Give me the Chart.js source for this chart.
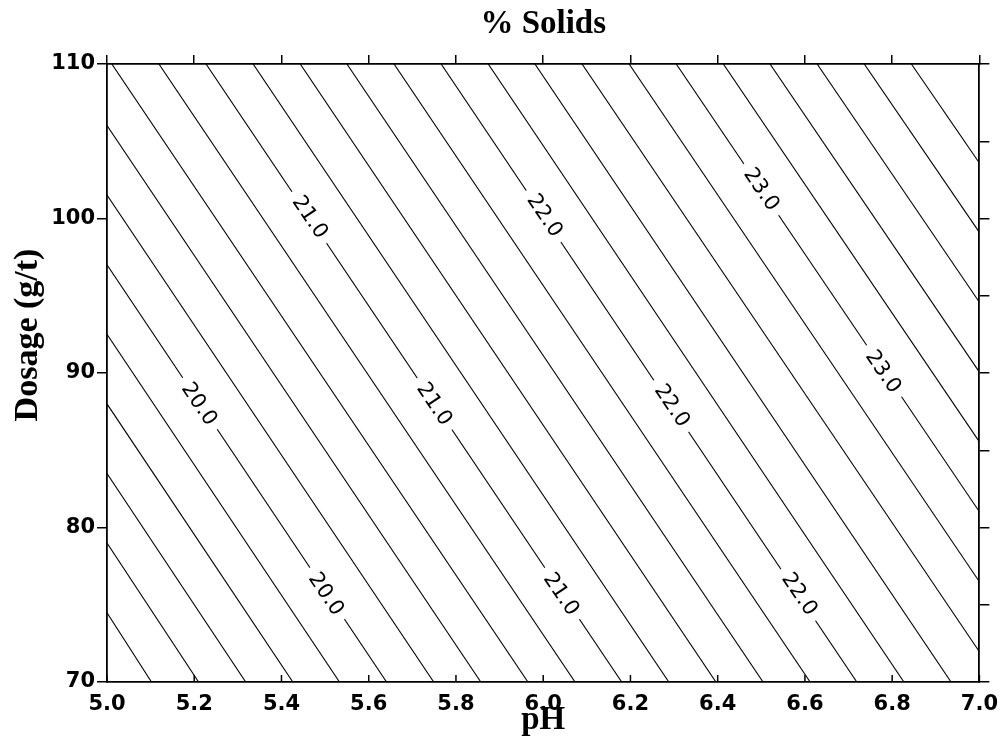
<!DOCTYPE html>
<html>
<head>
<meta charset="utf-8">
<title>% Solids</title>
<script src="https://cdn.jsdelivr.net/npm/chart.js@4.4.0/dist/chart.umd.min.js"></script>
<style>
  body { margin: 0; background: #fff; }
  canvas { display: block; }
</style>
</head>
<body>
<canvas id="solidosChart" width="1008" height="744"></canvas>
<script>
// Niveles de las curvas de contorno (% sólidos)
var niveles = [19.0, 19.2, 19.4, 19.6, 19.8, 20.0, 20.2, 20.4, 20.6, 20.8, 21.0, 21.2, 21.4,
               21.6, 21.8, 22.0, 22.2, 22.4, 22.6, 22.8, 23.0, 23.2, 23.4, 23.6, 23.8, 24.0];

// Extremos de cada curva (pH, dosis en g/t)
var phInicio = [5.0, 5.0, 5.0, 5.0, 5.0, 5.0, 5.0, 5.0, 5.011, 5.119, 5.227, 5.335, 5.443,
                5.550, 5.658, 5.766, 5.874, 5.981, 6.089, 6.197, 6.305, 6.413, 6.520, 6.628, 6.736, 6.844];
var dosisInicio = [74.48, 78.99, 83.49, 88.00, 92.51, 97.01, 101.52, 106.02, 110, 110, 110, 110, 110,
                   110, 110, 110, 110, 110, 110, 110, 110, 110, 110, 110, 110, 110];
var phFin = [5.102, 5.210, 5.318, 5.426, 5.533, 5.641, 5.749, 5.857, 5.965, 6.073, 6.180, 6.288, 6.396,
             6.504, 6.612, 6.719, 6.827, 6.935, 7.0, 7.0, 7.0, 7.0, 7.0, 7.0, 7.0, 7.0];
var dosisFin = [70, 70, 70, 70, 70, 70, 70, 70, 70, 70, 70, 70, 70,
                70, 70, 70, 70, 70, 71.96, 76.49, 81.02, 85.54, 90.06, 94.58, 99.10, 103.59];

// Etiquetas sobre las curvas
var etiquetaNivel = [20.0, 20.0, 21.0, 21.0, 21.0, 22.0, 22.0, 22.0, 23.0, 23.0];
var etiquetaPH = [5.212, 5.503, 5.466, 5.751, 6.042, 6.004, 6.296, 6.588, 6.501, 6.780];
var etiquetaDosis = [88.0, 75.7, 100.1, 88.0, 75.7, 100.2, 87.9, 75.7, 101.9, 90.1];

// Marcas del eje
var marcasPH = { min: 5.0, max: 7.0, paso: 0.2 };
var marcasDosis = { min: 70, max: 110, paso: 10, pasoDerecho: 5 };

// Una serie por cada curva de contorno
var conjuntos = niveles.map(function (nivel, i) {
    return {
        label: nivel.toFixed(1),
        data: [{ x: phInicio[i], y: dosisInicio[i] }, { x: phFin[i], y: dosisFin[i] }],
        borderColor: '#000',
        borderWidth: 1.1,
        pointRadius: 0,
        showLine: true,
        fill: false
    };
});

// Dibuja los números de las curvas con un hueco blanco
var etiquetasContorno = {
    id: 'etiquetasContorno',
    afterDatasetsDraw: function (chart) {
        var ctx = chart.ctx;
        var xs = chart.scales.x, ys = chart.scales.y;
        ctx.save();
        etiquetaNivel.forEach(function (nivel, k) {
            var i = niveles.indexOf(nivel);
            var ang = Math.atan2(ys.getPixelForValue(dosisFin[i]) - ys.getPixelForValue(dosisInicio[i]),
                                 xs.getPixelForValue(phFin[i]) - xs.getPixelForValue(phInicio[i]));
            ctx.save();
            ctx.translate(xs.getPixelForValue(etiquetaPH[k]), ys.getPixelForValue(etiquetaDosis[k]));
            ctx.rotate(ang);
            ctx.fillStyle = '#fff';
            ctx.fillRect(-31, -11, 62, 22);
            ctx.fillStyle = '#000';
            ctx.font = '21px "DejaVu Sans"';
            ctx.textAlign = 'center';
            ctx.textBaseline = 'middle';
            ctx.fillText(nivel.toFixed(1), 0, 1);
            ctx.restore();
        });
        ctx.restore();
    }
};

// Marcas hacia adentro en el eje inferior y título del eje Y
var marcasInternas = {
    id: 'marcasInternas',
    afterDraw: function (chart) {
        var xs = chart.scales.x, ctx = chart.ctx, abajo = chart.chartArea.bottom;
        ctx.save();
        ctx.strokeStyle = '#000';
        ctx.lineWidth = 1.5;
        xs.ticks.forEach(function (t) {
            var px = xs.getPixelForValue(t.value);
            ctx.beginPath();
            ctx.moveTo(px, abajo);
            ctx.lineTo(px, abajo - 7);
            ctx.stroke();
        });
        // título del eje Y, algo por encima del centro como en la figura
        ctx.translate(28, 335);
        ctx.rotate(-Math.PI / 2);
        ctx.fillStyle = '#000';
        ctx.font = 'bold 34px "Liberation Serif"';
        ctx.textAlign = 'center';
        ctx.textBaseline = 'middle';
        ctx.fillText('Dosage (g/t)', 0, 0);
        ctx.restore();
    }
};

var fuenteTicks = { family: '"DejaVu Sans"', weight: 'bold', size: 21 };
var fuenteTitulo = { family: '"Liberation Serif"', weight: 'bold', size: 33 };
var borde = { display: true, color: '#000', width: 1.8 };

var ctx = document.getElementById('solidosChart').getContext('2d');
var solidosChart = new Chart(ctx, {
    type: 'scatter',
    data: { datasets: conjuntos },
    plugins: [etiquetasContorno, marcasInternas],
    options: {
        responsive: false,
        animation: false,
        layout: { padding: 0, autoPadding: false },
        plugins: {
            legend: { display: false },
            tooltip: { enabled: false }
        },
        scales: {
            x: {
                type: 'linear', position: 'bottom',
                min: marcasPH.min, max: marcasPH.max,
                afterFit: function (s) { s.height = 62; },
                ticks: {
                    stepSize: marcasPH.paso, padding: 10, color: '#000', font: fuenteTicks,
                    maxRotation: 0, autoSkip: false,
                    callback: function (v) { return v.toFixed(1); }
                },
                grid: { drawOnChartArea: false, drawTicks: false },
                border: borde,
                title: { display: true, text: 'pH', color: '#000', font: fuenteTitulo, padding: { top: 0, bottom: 4 } }
            },
            x2: {
                type: 'linear', position: 'top',
                min: marcasPH.min, max: marcasPH.max,
                afterFit: function (s) { s.height = 64; },
                ticks: { stepSize: marcasPH.paso, display: false },
                grid: { drawOnChartArea: false, drawTicks: true, tickLength: 9, color: '#000', lineWidth: 1.5 },
                border: borde,
                title: { display: true, text: '% Solids', color: '#000', font: fuenteTitulo, padding: { top: 5, bottom: 0 } }
            },
            y: {
                type: 'linear', position: 'left',
                min: marcasDosis.min, max: marcasDosis.max,
                afterFit: function (s) { s.width = 107; },
                ticks: { stepSize: marcasDosis.paso, padding: 2, color: '#000', font: fuenteTicks },
                grid: { drawOnChartArea: false, drawTicks: true, tickLength: 10, color: '#000', lineWidth: 1.5 },
                border: borde
            },
            y2: {
                type: 'linear', position: 'right',
                min: marcasDosis.min, max: marcasDosis.max,
                afterFit: function (s) { s.width = 22; },
                ticks: { stepSize: marcasDosis.pasoDerecho, display: false },
                grid: { drawOnChartArea: false, drawTicks: true, tickLength: 10, color: '#000', lineWidth: 1.5 },
                border: borde
            }
        }
    }
});
</script>
</body>
</html>
